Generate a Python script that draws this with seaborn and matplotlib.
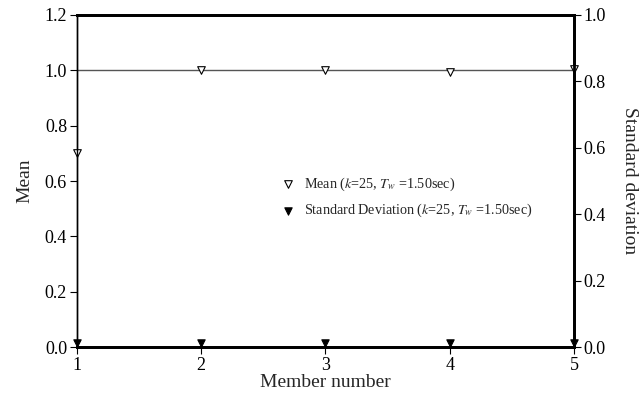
import matplotlib
matplotlib.use("Agg")
import matplotlib.pyplot as plt
import seaborn as sns
import pandas as pd

members = [1, 2, 3, 4, 5]
mean_vals = [0.70, 1.00, 1.00, 0.995, 1.005]
std_vals = [0.012, 0.012, 0.012, 0.012, 0.012]
mean_label = "Mean ($k$=25, $T_{w}$ =1.50sec)"
std_label = "Standard Deviation ($k$=25, $T_{w}$ =1.50sec)"

sns.set_style("ticks")
plt.rcParams["font.family"] = ["Liberation Serif", "DejaVu Serif"]
plt.rcParams["mathtext.fontset"] = "stix"

fig = plt.figure(figsize=(6.4, 3.94), dpi=100)
ax = fig.add_axes([0.120, 0.119, 0.777, 0.843])
ax2 = ax.twinx()

df_mean = pd.DataFrame({"x": members, "y": mean_vals})
df_std = pd.DataFrame({"x": members, "y": std_vals})

ax.axhline(1.0, color="#555555", lw=1.0, zorder=1)
sns.scatterplot(data=df_mean, x="x", y="y", ax=ax, marker="v", s=30,
                facecolor="white", edgecolor="black", linewidth=0.8,
                clip_on=False, zorder=5, label=mean_label, legend=False)
sns.scatterplot(data=df_std, x="x", y="y", ax=ax2, marker="v", s=28,
                color="black", edgecolor="black", linewidth=0.8,
                clip_on=False, zorder=5, label=std_label, legend=False)

ax.set_xlim(1, 5)
ax.set_ylim(0, 1.2)
ax2.set_ylim(0, 1.0)
ax.set_xticks(members)
ax.set_yticks([0.0, 0.2, 0.4, 0.6, 0.8, 1.0, 1.2])
ax.set_yticklabels(["0.0", "0.2", "0.4", "0.6", "0.8", "1.0", "1.2"])
ax2.set_yticks([0.0, 0.2, 0.4, 0.6, 0.8, 1.0])
ax2.set_yticklabels(["0.0", "0.2", "0.4", "0.6", "0.8", "1.0"])

for a in (ax, ax2):
    a.tick_params(labelsize=13, length=5, width=0.8, direction="out", colors="black", pad=2)
    for s in a.spines.values():
        s.set_color("black")
for a in (ax, ax2):
    a.spines["top"].set_linewidth(2.0)
    a.spines["bottom"].set_linewidth(2.0)
    a.spines["right"].set_linewidth(2.0)
    a.spines["left"].set_linewidth(1.0)

ax.set_xlabel("Member number", fontsize=14, labelpad=0)
ax.set_ylabel("Mean", fontsize=14, labelpad=8)
ax2.set_ylabel("Standard deviation", fontsize=14, rotation=270, labelpad=23)

h1, l1 = ax.get_legend_handles_labels()
h2, l2 = ax2.get_legend_handles_labels()
leg = ax2.legend(h1 + h2, l1 + l2, loc="upper left", bbox_to_anchor=(0.385, 0.555),
                 frameon=False, fontsize=10.2, handletextpad=0.6, labelspacing=0.65,
                 handlelength=1.0)

fig.savefig("out.png", dpi=100)
